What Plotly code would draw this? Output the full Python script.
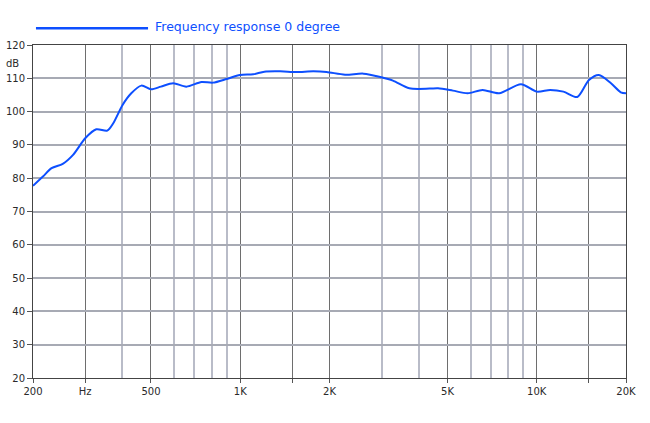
import plotly.graph_objs as go

# frequency response (Hz, dB)
freq_hz = [200, 216, 231, 252, 273, 300, 327, 356, 373, 401, 429, 464, 500,
           540, 594, 658, 740, 809, 900, 998, 1106, 1206, 1364, 1546, 1765,
           1955, 2257, 2605, 2993, 3272, 3717, 4351, 4646, 5213, 5850, 6566,
           7466, 8846, 10000, 11100, 12300, 13700, 15000, 16200, 17800,
           19200, 20000]
level_db = [77.7, 80.5, 83.0, 84.3, 87.0, 92.0, 94.7, 94.3, 96.5, 102.0,
            105.5, 107.8, 106.7, 107.5, 108.5, 107.5, 108.9, 108.7, 109.8,
            111.0, 111.2, 112.0, 112.1, 111.9, 112.1, 111.9, 111.1, 111.4,
            110.3, 109.3, 107.0, 106.9, 107.0, 106.3, 105.5, 106.5, 105.5,
            108.2, 106.0, 106.5, 106.0, 104.4, 109.5, 111.0, 108.5, 105.8,
            105.5]

x_tick_vals = [200, 300, 500, 1000, 1500, 2000, 5000, 10000, 15000, 20000]
x_tick_text = ["200", "Hz", "500", "1K", "", "2K", "5K", "10K", "", "20K"]
x_minor_vals = [400, 600, 700, 800, 900, 3000, 4000, 6000, 7000, 8000, 9000]
y_tick_vals = [20, 30, 40, 50, 60, 70, 80, 90, 100, 110, 120]

series_name = "Frequency response 0 degree"
blue = "#0d4fff"
font = "DejaVu Sans"


def main():
    fig = go.Figure()
    fig.add_trace(go.Scatter(x=freq_hz, y=level_db, mode="lines",
                             line=dict(color=blue, width=2, shape="spline",
                                       smoothing=0.8),
                             name=series_name, showlegend=False))

    fig.update_layout(
        width=650, height=423,
        margin=dict(l=33, r=24, t=45, b=45, autoexpand=False),
        paper_bgcolor="white", plot_bgcolor="white",
        font=dict(family=font, size=10, color="#2a2a2a"),
        xaxis=dict(type="log", range=[2.30103, 4.30103], automargin=False,
                   tickmode="array", tickvals=x_tick_vals, ticktext=x_tick_text,
                   showgrid=True, gridcolor="#6e6e6e", gridwidth=1,
                   ticks="outside", ticklen=4, tickcolor="#555555",
                   showline=True, linecolor="#444444", linewidth=1,
                   mirror=True, zeroline=False,
                   minor=dict(tickmode="array", tickvals=x_minor_vals,
                              showgrid=True, gridcolor="#b9bcc8",
                              gridwidth=2, ticks="")),
        yaxis=dict(range=[20, 120], tickmode="array", tickvals=y_tick_vals,
                   automargin=False,
                   showgrid=True, gridcolor="#a7aab4", gridwidth=1.5,
                   ticks="outside", ticklen=5, tickcolor="#555555",
                   showline=True, linecolor="#444444", linewidth=1,
                   mirror=True, zeroline=False),
    )

    # legend drawn by hand so the sample line is as long as in the original
    fig.add_shape(type="line", xref="paper", yref="paper",
                  x0=0.005, x1=0.194, y0=1.05, y1=1.05,
                  line=dict(color=blue, width=2.5))
    fig.add_annotation(text=series_name, xref="paper", yref="paper",
                       x=0.202, y=1.057, xanchor="left", yanchor="middle",
                       showarrow=False,
                       font=dict(family=font, size=12.5, color=blue))
    fig.add_annotation(text="dB", xref="paper", yref="paper",
                       x=-0.021, y=0.945, xanchor="right", yanchor="middle",
                       showarrow=False, font=dict(family=font, size=10,
                                                  color="#2a2a2a"))

    # page body has a default margin; drop it so the chart sits at the corner
    fig.write_html("out.html", config={"displayModeBar": False},
                   post_script="document.body.style.margin='0px';")


if __name__ == "__main__":
    main()
